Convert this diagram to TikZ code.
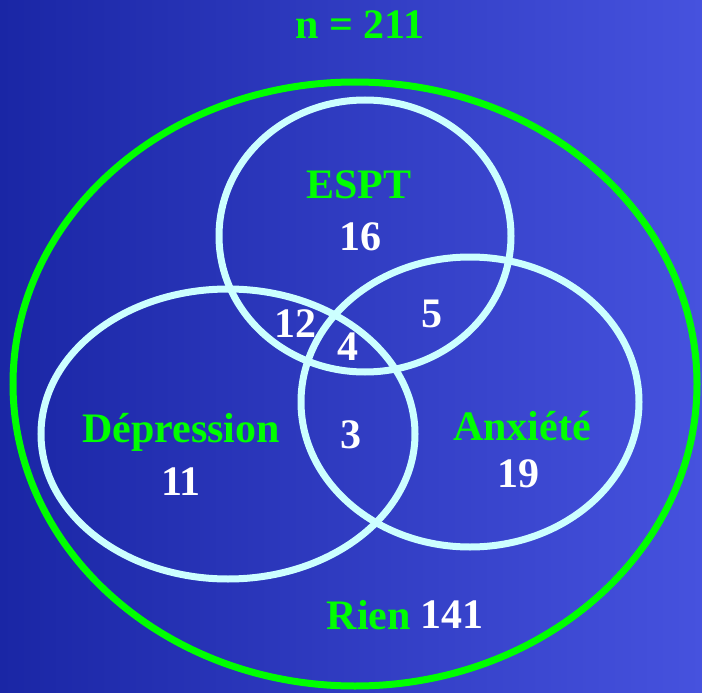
\documentclass[tikz,border=0pt]{standalone}
\usepackage{fontspec}
\setmainfont{Liberation Serif}
\definecolor{vgreen}{RGB}{0,255,0}
\definecolor{ring}{RGB}{204,255,255}
\definecolor{bgleft}{RGB}{26,38,165}
\definecolor{bgright}{RGB}{70,82,222}
\tikzset{
  set/.style={draw=ring,line width=7pt},
  lab/.style={text=vgreen,font=\bfseries\fontsize{42}{48}\selectfont,inner sep=0pt},
  num/.style={text=white,font=\bfseries\fontsize{42}{48}\selectfont,inner sep=0pt}
}
\begin{document}
\begin{tikzpicture}[x=1pt,y=-1pt]
\shade[shading angle=75,left color=bgleft,right color=bgright] (0,0) rectangle (702,693);
\useasboundingbox (0,0) rectangle (702,693);
\draw[draw=vgreen,line width=7pt] (355,384) ellipse [x radius=342,y radius=302];
\draw[set] (365,236) ellipse [x radius=146,y radius=136];
\draw[set] (228,434) ellipse [x radius=187,y radius=145];
\draw[set] (470,402) ellipse [x radius=169,y radius=145];
\node[lab] (n) at (360,25) {n = 211};
\node[lab] (espt) at (359,185) {ESPT};
\node[num] (e16) at (360,237) {16};
\node[num] (e12) at (295,324) {12};
\node[num] (e4) at (348,347) {4};
\node[num] (e5) at (432,314) {5};
\node[lab] (dep) at (181,432) {Dépression};
\node[num] (d11) at (181,482) {11};
\node[num] (e3) at (351,435) {3};
\node[lab] (anx) at (522,426) {Anxiété};
\node[num] (a19) at (518,474) {19};
\node[lab,anchor=east] (rien) at (411,615) {Rien};
\node[num,anchor=west] (r141) at (420,615) {141};
\end{tikzpicture}
\end{document}
